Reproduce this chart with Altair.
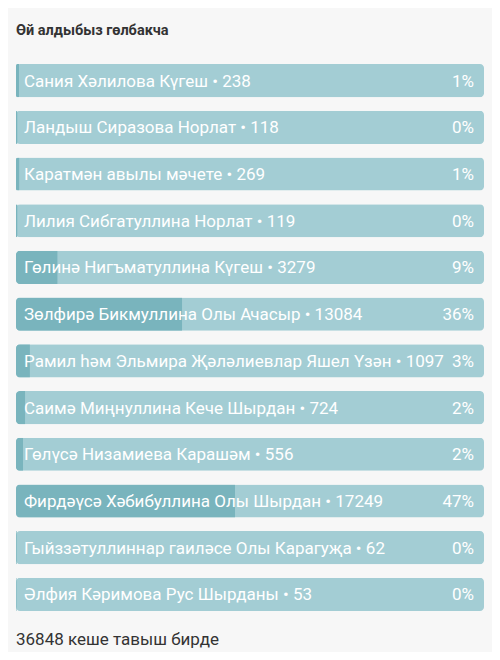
import altair as alt
import pandas as pd

names = [
    "Сания Хәлилова Күгеш",
    "Ландыш Сиразова Норлат",
    "Каратмән авылы мәчете",
    "Лилия Сибгатуллина Норлат",
    "Гөлинә Нигъматуллина Күгеш",
    "Зөлфирә Бикмуллина Олы Ачасыр",
    "Рамил һәм Эльмира Җәләлиевлар Яшел Үзән",
    "Саимә Миңнуллина Кече Шырдан",
    "Гөлүсә Низамиева Карашәм",
    "Фирдәүсә Хәбибуллина Олы Шырдан",
    "Гыйззәтуллиннар гаиләсе Олы Карагуҗа",
    "Әлфия Кәримова Рус Шырданы",
]
votes = [238, 118, 269, 119, 3279, 13084, 1097, 724, 556, 17249, 62, 53]
title_text = "Өй алдыбыз гөлбакча"

total = sum(votes)
footer_text = f"{total} кеше тавыш бирде"

df = pd.DataFrame({
    "name": names,
    "votes": votes,
    "order": list(range(len(names))),
})
df["share"] = df["votes"] / total
df["label"] = df["name"] + " • " + df["votes"].astype(str)
df["pct"] = (df["share"] * 100).round().astype(int).astype(str) + "%"
df["full"] = 1.0

W = 468
H = 547
LIGHT = "#a3cdd4"
DARK = "#79b4bd"
BG = "#f7f7f7"

y_enc = alt.Y("name:N", sort=names, axis=None,
              scale=alt.Scale(paddingInner=0.29, paddingOuter=0))
x_scale = alt.Scale(domain=[0, 1])

base = alt.Chart(df)

bg_bar = base.mark_bar(color=LIGHT, cornerRadius=4).encode(
    y=y_enc,
    x=alt.X("full:Q", scale=x_scale, axis=None),
)
fill_bar = base.mark_bar(color=DARK, cornerRadiusTopLeft=4, cornerRadiusBottomLeft=4).encode(
    y=y_enc,
    x=alt.X("share:Q", scale=x_scale, axis=None),
)
labels = base.mark_text(align="left", baseline="middle", dx=8, dy=1, color="white",
                        font="Roboto", fontSize=17).encode(
    y=y_enc,
    x=alt.value(0),
    text="label:N",
)
pcts = base.mark_text(align="right", baseline="middle", dx=-10, dy=1, color="white",
                      font="Roboto", fontSize=17).encode(
    y=y_enc,
    x=alt.value(W),
    text="pct:N",
)
footer = alt.Chart(pd.DataFrame({"t": [footer_text]})).mark_text(
    align="left", baseline="middle", color="#333333", font="Roboto", fontSize=17
).encode(
    x=alt.value(0),
    y=alt.value(H + 29),
    text="t:N",
)

chart = alt.layer(bg_bar, fill_bar, labels, pcts, footer).properties(
    width=W,
    height=H,
    autosize=alt.AutoSizeParams(type="none"),
    padding={"left": 8, "top": 56, "right": 8, "bottom": 41},
    background=BG,
    title=alt.TitleParams(
        text=title_text, anchor="start", font="Roboto", fontSize=14.5,
        fontWeight="bold", color="#333333", offset=26, frame="group",
    ),
).configure_view(stroke=None)

chart.save("out.html", embed_options={"renderer": "svg", "actions": False})
